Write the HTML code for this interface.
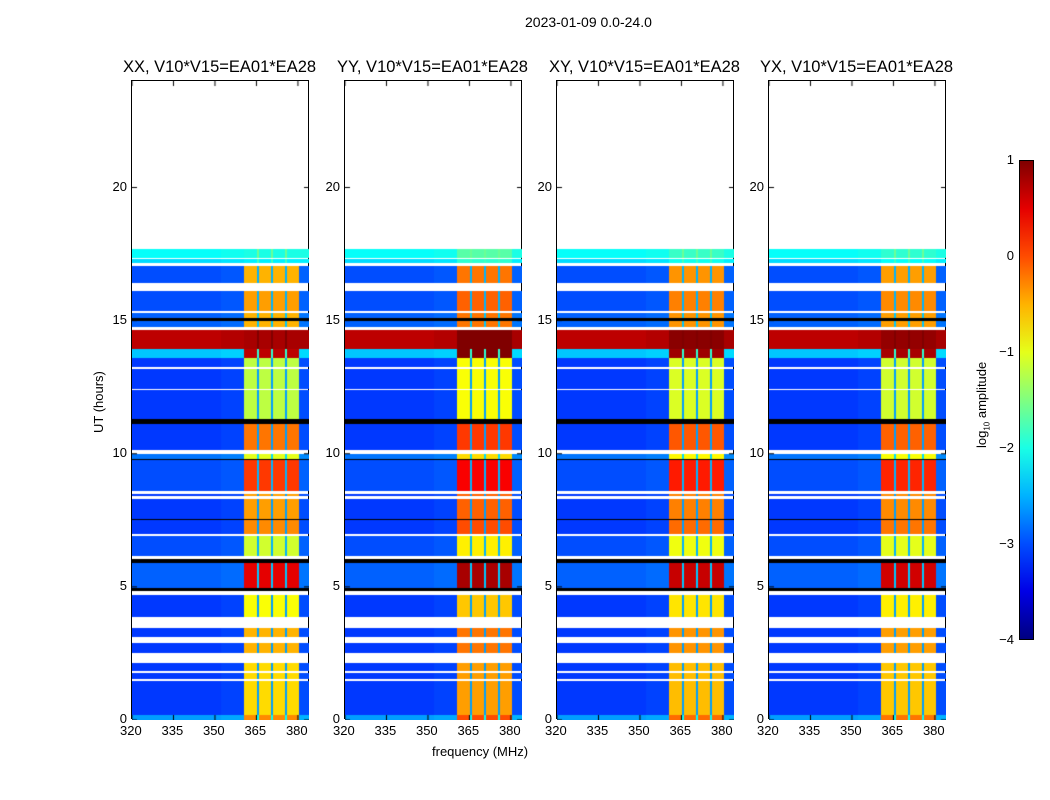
<!DOCTYPE html>
<html><head><meta charset="utf-8"><style>
body{margin:0;background:#fff;font-family:"Liberation Sans",sans-serif;}
#root{position:relative;width:1050px;height:800px;overflow:hidden;background:#fff;}
.t{position:absolute;font-size:13px;color:#000;white-space:nowrap;}
.pt{position:absolute;font-size:16.5px;color:#000;white-space:nowrap;transform:translateX(-50%);top:58px;}
.panel{position:absolute;top:80px;height:639px;border:1px solid #000;box-sizing:border-box;}
canvas{position:absolute;left:0;top:0;}
</style></head><body>
<div id="root">
<div class="t" style="left:525px;top:14px;font-size:14px;">2023-01-09 0.0-24.0</div>
<div class="t" style="left:432px;top:744px;">frequency (MHz)</div>
<div class="t" style="left:91px;top:433px;transform:rotate(-90deg);transform-origin:0 0;">UT (hours)</div>
<div class="t" style="left:974px;top:448px;transform:rotate(-90deg);transform-origin:0 0;">log<sub style="font-size:8px">10</sub> amplitude</div>
<div id="cbar" style="position:absolute;left:1019px;top:160px;width:15px;height:480px;border:1px solid #000;box-sizing:border-box;"></div>
</div>
<script>
const panelTitles=["XX, V10*V15=EA01*EA28","YY, V10*V15=EA01*EA28","XY, V10*V15=EA01*EA28","YX, V10*V15=EA01*EA28"];
const panelLefts=[131,344,556,768];
const panelBandBoost=[0,0.3,0.15,0.1];
const xTicks=[320,335,350,365,380];
const yTicks=[0,5,10,15,20];
const cbTicks=[1,0,-1,-2,-3,-4];
// time segments: start, end (hours), background level, band level; kind: 0 data, 1 white(flagged), 2 black
const segStart=[0.0,0.2,1.45,1.55,1.75,1.85,2.15,2.5,2.9,3.1,3.45,3.85,4.7,4.85,4.95,5.9,6.05,6.15,6.9,7.0,7.5,7.55,8.3,8.4,8.5,8.6,9.75,9.8,10.0,10.15,11.1,11.3,12.4,12.45,13.2,13.25,13.6,13.95,14.65,14.75,15.0,15.1,15.3,15.35,16.1,16.4,17.05,17.15,17.3,17.35];
const segEnd=[0.2,1.45,1.55,1.75,1.85,2.15,2.5,2.9,3.1,3.45,3.85,4.7,4.85,4.95,5.9,6.05,6.15,6.9,7.0,7.5,7.55,8.3,8.4,8.5,8.6,9.75,9.8,10.0,10.15,11.1,11.3,12.4,12.45,13.2,13.25,13.6,13.95,14.65,14.75,15.0,15.1,15.3,15.35,16.1,16.4,17.05,17.15,17.3,17.35,17.7];
const segKind=[0,0,1,0,1,0,1,0,1,0,1,0,1,2,0,2,1,0,1,0,2,0,1,0,1,0,2,0,1,0,2,0,1,0,1,0,0,0,1,0,2,0,1,0,1,0,1,0,1,0];
const segBg=[-2.6,-3.1,0,-3.1,0,-3.1,0,-3.1,0,-3.1,0,-3.1,0,0,-2.9,0,0,-3.0,0,-3.1,0,-3.1,0,-3.1,0,-3.0,0,-2.8,0,-3.1,0,-3.1,0,-3.1,0,-3.1,-2.4,0.7,0,-2.9,0,-2.9,0,-3.0,0,-3.0,0,-2.3,0,-2.1];
const segBand=[-0.3,-0.7,0,-0.7,0,-0.7,0,-0.5,0,-0.5,0,-0.9,0,0,0.5,0,0,-1.1,0,-0.3,0,-0.4,0,-0.4,0,0.1,0,-1.0,0,-0.2,0,-1.2,0,-1.2,0,-1.2,0.7,0.8,0,-0.5,0,-0.5,0,-0.4,0,-0.5,0,-2.2,0,-2.0];
// frequency segments (MHz)
const freqStart=[320,352,360.5,365.3,366,370.3,371,375.3,376,380.3];
const freqEnd=[352,360.5,365.3,366,370.3,371,375.3,376,380.3,384];
const freqIsBand=[0,0,1,0,1,0,1,0,1,0];
const freqOffset=[0,0.05,0,0.5,0,0.5,0,0.5,0,0.1];

const PW=177,PH=639,XMIN=320,XMAX=384,YMIN=0,YMAX=24;
const xs=f=>(f-XMIN)/(XMAX-XMIN)*PW;
const ys=h=>PH-(h-YMIN)/(YMAX-YMIN)*PH;
function jet(v){let t=Math.max(0,Math.min(1,(v+4)/5));
 const c=x=>Math.round(255*Math.max(0,Math.min(1,x)));
 return `rgb(${c(1.5-Math.abs(4*t-3))},${c(1.5-Math.abs(4*t-2))},${c(1.5-Math.abs(4*t-1))})`;}
const root=document.getElementById('root');
panelLefts.forEach((L,p)=>{
 const t=document.createElement('div');t.className='pt';t.style.left=(L+PW/2)+'px';t.textContent=panelTitles[p];
 
 
 root.appendChild(t);
 const d=document.createElement('div');d.className='panel';d.style.left=L+'px';d.style.width=(PW+1)+'px';
 
 
 const cv=document.createElement('canvas');cv.width=PW;cv.height=PH;
 
 
 d.appendChild(cv);root.appendChild(d);
 const ctx=cv.getContext('2d');
 for(let i=0;i<segStart.length;i++){
  const y0=Math.round(ys(segEnd[i])),y1=Math.round(ys(segStart[i]));
  if(segKind[i]===1)continue;
  for(let j=0;j<freqStart.length;j++){
   const x0=Math.round(xs(freqStart[j])),x1=Math.round(xs(freqEnd[j]));
   let col;
   if(segKind[i]===2)col='#000';
   else if(freqIsBand[j])col=jet(segBand[i]+panelBandBoost[p]);
   else col=jet(segBg[i]+freqOffset[j]);
   ctx.fillStyle=col;ctx.fillRect(x0,y0,Math.max(1,x1-x0),Math.max(1,y1-y0));
  }
 }
 ctx.fillStyle='#000';
 xTicks.forEach(v=>{const x=xs(v);ctx.fillRect(x-0.5,PH-5,1,5);ctx.fillRect(x-0.5,0,1,5);
  const l=document.createElement('div');l.className='t';l.textContent=v;l.style.left=(L+x-11)+'px';l.style.top='723px';
  
  
  root.appendChild(l);});
 yTicks.forEach(v=>{const y=ys(v);ctx.fillRect(0,y-0.5,5,1);ctx.fillRect(PW-5,y-0.5,5,1);
  const l=document.createElement('div');l.className='t';l.textContent=v;l.style.left=(L-24)+'px';l.style.width='20px';l.style.textAlign='right';l.style.top=(80+y-8)+'px';
  
  
  root.appendChild(l);});
});
const cb=document.getElementById('cbar');
let stops=[];for(let k=0;k<=10;k++){const v=1-k*0.5;stops.push(jet(v)+' '+(k*10)+'%');}
cb.style.background='linear-gradient(to bottom,'+stops.join(',')+')';
cbTicks.forEach(v=>{const y=160+(1-v)/5*480;
 const l=document.createElement('div');l.className='t';l.textContent=v<0?'\u2212'+(-v):v;l.style.left='990px';l.style.width='24px';l.style.textAlign='right';l.style.top=(y-8)+'px';
 
 
 root.appendChild(l);});
</script>
</body></html>
